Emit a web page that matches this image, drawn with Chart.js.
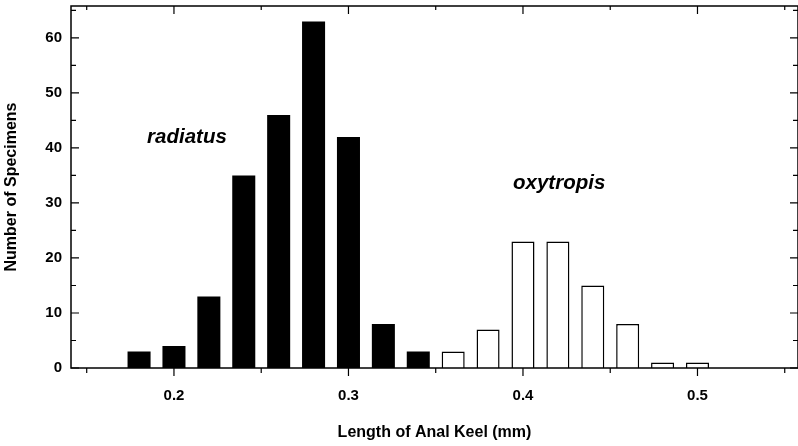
<!DOCTYPE html>
<html>
<head>
<meta charset="utf-8">
<script src="https://cdn.jsdelivr.net/npm/chart.js@4/dist/chart.umd.min.js"></script>
<style>
    html, body { margin: 0; padding: 0; background: #fff; }
    #wrap { width: 798px; height: 446px; }
</style>
</head>
<body>
<div id="wrap"><canvas id="hist"></canvas></div>
<script>
// bin centres (mm) and counts per species
const radiatusBins = [0.18, 0.20, 0.22, 0.24, 0.26, 0.28, 0.30, 0.32, 0.34];
const radiatusCounts = [3, 4, 13, 35, 46, 63, 42, 8, 3];
const oxytropisBins = [0.36, 0.38, 0.40, 0.42, 0.44, 0.46, 0.48, 0.50];
const oxytropisCounts = [3, 7, 23, 23, 15, 8, 1, 1];

// axis ticks
const xMajor = [0.2, 0.3, 0.4, 0.5];
const xMinor = [0.15, 0.25, 0.35, 0.45, 0.55];
const yMajor = [0, 10, 20, 30, 40, 50, 60];
const yMinor = [5, 15, 25, 35, 45, 55, 65];

// species names written inside the plot
const speciesLabels = [
    { text: "radiatus", x: 0.1846, y: 40.9 },
    { text: "oxytropis", x: 0.3943, y: 32.5 },
];

const FONT = "'Liberation Sans', Arial, Helvetica, sans-serif";
const INK = "#000";

function toPoints(xs, ys) {
    return xs.map((x, i) => ({ x: x, y: ys[i] }));
}

// frame, inward/outward tick marks and the species names
const framePlugin = {
    id: "frame",
    afterDraw(chart) {
        const ctx = chart.ctx;
        const { left, right, top, bottom } = chart.chartArea;
        const xs = chart.scales.x;
        const ys = chart.scales.y;
        ctx.save();
        ctx.strokeStyle = INK;
        ctx.lineWidth = 1.5;
        ctx.strokeRect(left, top, right - left, bottom - top);

        ctx.lineWidth = 1.2;
        ctx.beginPath();
        xMajor.forEach((v) => {
            const px = xs.getPixelForValue(v);
            ctx.moveTo(px, bottom); ctx.lineTo(px, bottom + 8);
            ctx.moveTo(px, top); ctx.lineTo(px, top + 8);
        });
        xMinor.forEach((v) => {
            const px = xs.getPixelForValue(v);
            ctx.moveTo(px, bottom); ctx.lineTo(px, bottom + 5);
            ctx.moveTo(px, top); ctx.lineTo(px, top + 4);
        });
        yMajor.forEach((v) => {
            const py = ys.getPixelForValue(v);
            ctx.moveTo(left, py); ctx.lineTo(left + 8, py);
            ctx.moveTo(right, py); ctx.lineTo(right - 8, py);
        });
        yMinor.forEach((v) => {
            const py = ys.getPixelForValue(v);
            ctx.moveTo(left, py); ctx.lineTo(left + 5, py);
            ctx.moveTo(right, py); ctx.lineTo(right - 5, py);
        });
        ctx.stroke();

        ctx.fillStyle = INK;
        ctx.font = "italic bold 20.5px " + FONT;
        ctx.textBaseline = "alphabetic";
        ctx.textAlign = "left";
        speciesLabels.forEach((l) => {
            ctx.fillText(l.text, xs.getPixelForValue(l.x), ys.getPixelForValue(l.y));
        });
        ctx.restore();
    },
};

new Chart(document.getElementById("hist"), {
    type: "bar",
    data: {
        datasets: [
            {
                label: "radiatus",
                data: toPoints(radiatusBins, radiatusCounts),
                backgroundColor: INK,
                borderWidth: 0,
            },
            {
                label: "oxytropis",
                data: toPoints(oxytropisBins, oxytropisCounts),
                backgroundColor: "#fff",
                borderColor: INK,
                borderWidth: 1.5,
            },
        ],
    },
    options: {
        responsive: true,
        maintainAspectRatio: false,
        animation: false,
        grouped: false,
        categoryPercentage: 1,
        barPercentage: 0.66,
        layout: { padding: { top: 6, right: 0, left: 0, bottom: 0 } },
        plugins: {
            legend: { display: false },
            tooltip: { enabled: false },
        },
        scales: {
            x: {
                type: "linear",
                min: 0.141,
                max: 0.5576,
                offset: false,
                grid: { display: false, drawTicks: false },
                border: { display: false },
                afterBuildTicks: (s) => { s.ticks = xMajor.map((v) => ({ value: v })); },
                afterFit: (s) => {
                    s.height = 78;
                    s.paddingLeft = 0;
                    s.paddingRight = 0;
                },
                ticks: {
                    padding: 19,
                    color: INK,
                    font: { family: FONT, size: 15, weight: "bold" },
                    callback: (v) => Number(v).toFixed(1),
                },
                title: {
                    display: true,
                    text: "Length of Anal Keel (mm)",
                    color: INK,
                    font: { family: FONT, size: 16, weight: "bold" },
                    padding: { top: 0, bottom: 4 },
                },
            },
            y: {
                min: 0,
                max: 65.8,
                grid: { display: false, drawTicks: false },
                border: { display: false },
                afterBuildTicks: (s) => { s.ticks = yMajor.map((v) => ({ value: v })); },
                afterFit: (s) => {
                    s.width = 71;
                    s.paddingTop = 0;
                    s.paddingBottom = 0;
                },
                ticks: {
                    padding: 9,
                    color: INK,
                    font: { family: FONT, size: 15, weight: "bold" },
                },
                title: {
                    display: true,
                    text: "Number of Specimens",
                    color: INK,
                    font: { family: FONT, size: 16, weight: "bold" },
                    padding: { top: 2, bottom: 0 },
                },
            },
        },
    },
    plugins: [framePlugin],
});
</script>
</body>
</html>
